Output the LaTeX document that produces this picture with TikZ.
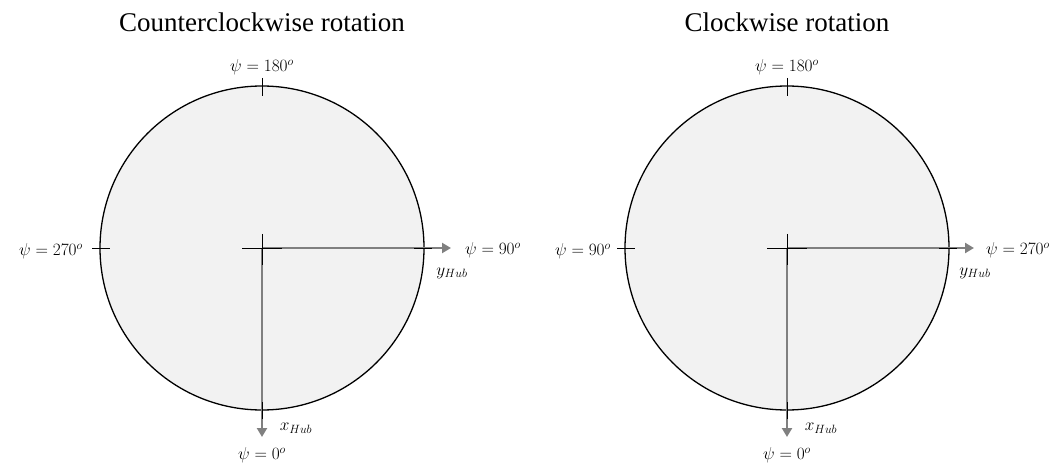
\documentclass[tikz,border=0pt]{standalone}
\usepackage{fontspec}
\setmainfont{Liberation Serif}
\usetikzlibrary{arrows.meta}
\definecolor{diskfill}{HTML}{F2F2F2}
\definecolor{axisgray}{HTML}{808080}
\begin{document}
\begin{tikzpicture}[x=1pt,y=-1pt,
  disk/.style={circle,draw=black,line width=1.3pt,fill=diskfill,minimum size=324pt,inner sep=0pt},
  axisarrow/.style={draw=axisgray,line width=2.6pt,-{Triangle[length=9pt,width=10pt]}},
  tickline/.style={draw=black,line width=0.9pt},
  title/.style={font=\fontsize{27}{30}\selectfont,inner sep=0pt},
  lab/.style={font=\fontsize{18}{21}\selectfont,inner sep=0pt}]
\useasboundingbox (0,0) rectangle (1059,470);

% ---------- left panel ----------
\node[title] (t1) at (262,22) {Counterclockwise rotation};
\node[disk] (d1) at (262,248) {};
\coordinate (c1) at (262,248);
\coordinate (y1) at (451,248);
\coordinate (x1) at (262,437);
\draw[axisarrow] (c1) -- (y1);
\draw[axisarrow] (c1) -- (x1);
\draw[tickline] (242,248) -- (282,248);
\draw[tickline] (262,234) -- (262,265);
\draw[tickline] (262,78) -- (262,96);
\draw[tickline] (92,248) -- (110,248);
\draw[tickline] (414,248) -- (432,248);
\draw[tickline] (262,402) -- (262,419);
\node[lab] (l1a) at (262,67) {$\psi = 180^o$};
\node[lab] (l1b) at (51,251) {$\psi = 270^o$};
\node[lab] (l1c) at (493,250) {$\psi = 90^o$};
\node[lab] (l1d) at (262,455) {$\psi = 0^o$};
\node[lab] (l1y) at (452,273) {$y_{Hub}$};
\node[lab] (l1x) at (296,428) {$x_{Hub}$};

% ---------- right panel ----------
\node[title] (t2) at (787,22) {Clockwise rotation};
\node[disk] (d2) at (787,248) {};
\coordinate (c2) at (787,248);
\coordinate (y2) at (974,248);
\coordinate (x2) at (787,437);
\draw[axisarrow] (c2) -- (y2);
\draw[axisarrow] (c2) -- (x2);
\draw[tickline] (767,248) -- (807,248);
\draw[tickline] (787,234) -- (787,265);
\draw[tickline] (787,78) -- (787,96);
\draw[tickline] (617,248) -- (635,248);
\draw[tickline] (939,248) -- (957,248);
\draw[tickline] (787,402) -- (787,419);
\node[lab] (l2a) at (787,67) {$\psi = 180^o$};
\node[lab] (l2b) at (583,251) {$\psi = 90^o$};
\node[lab] (l2c) at (1018,250) {$\psi = 270^o$};
\node[lab] (l2d) at (787,455) {$\psi = 0^o$};
\node[lab] (l2y) at (975,273) {$y_{Hub}$};
\node[lab] (l2x) at (821,428) {$x_{Hub}$};
\end{tikzpicture}
\end{document}
